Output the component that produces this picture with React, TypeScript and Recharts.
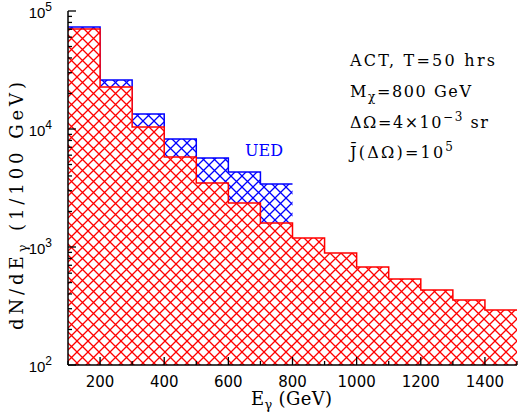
import React from 'react';
import { ComposedChart, Area, XAxis, YAxis } from 'recharts';

// bin lower edges (GeV), last entry closes the final bin
const binEdges = [100, 200, 300, 400, 500, 600, 700, 800, 900, 1000, 1100, 1200, 1300, 1400, 1500];
// background counts per 100 GeV bin
const background = [70300, 22700, 10400, 5800, 3480, 2360, 1600, 1190, 889, 676, 536, 432, 356, 293];
// background + UED signal, bins 100-800 GeV
const uedTotal = [73100, 26000, 13400, 8220, 5680, 4320, 3420];

const xMajor = [200, 400, 600, 800, 1000, 1200, 1400];
const xTicks = [100, 200, 300, 400, 500, 600, 700, 800, 900, 1000, 1100, 1200, 1300, 1400, 1500];
const yDecades = [100, 1000, 10000, 100000];
const yTicks = [
  100, 200, 300, 400, 500, 600, 700, 800, 900,
  1000, 2000, 3000, 4000, 5000, 6000, 7000, 8000, 9000,
  10000, 20000, 30000, 40000, 50000, 60000, 70000, 80000, 90000,
  100000,
];

const data = binEdges.map((e, i) => ({
  e,
  bg: background[Math.min(i, background.length - 1)],
  ued: i <= uedTotal.length ? uedTotal[Math.min(i, uedTotal.length - 1)] : null,
}));

const W = 518;
const H = 414;
const serif = '"DejaVu Serif", serif';
const sans = '"DejaVu Sans", sans-serif';
const sansNarrow = '"Liberation Sans", Arial, sans-serif';

const BottomTick = (props: any) => {
  const { x, y, payload } = props;
  const v = payload.value;
  const major = xMajor.includes(v);
  return (
    <g>
      <line x1={x} x2={x} y1={y} y2={y - (major ? 8 : 4)} stroke="#000" strokeWidth={1.3} />
      {major && (
        <text x={x} y={y + 22} textAnchor="middle" fontFamily={sans} fontSize={15} fill="#000">
          {v}
        </text>
      )}
    </g>
  );
};

const TopTick = (props: any) => {
  const { x, y, payload } = props;
  const major = xMajor.includes(payload.value);
  return <line x1={x} x2={x} y1={y} y2={y + (major ? 8 : 4)} stroke="#000" strokeWidth={1.3} />;
};

const LeftTick = (props: any) => {
  const { x, y, payload } = props;
  const v = payload.value;
  const major = yDecades.includes(v);
  const exp = Math.round(Math.log10(v));
  return (
    <g>
      <line x1={x} x2={x + (major ? 8 : 4)} y1={y} y2={y} stroke="#000" strokeWidth={1.3} />
      {major && (
        <text x={x - 16} y={y + 7} textAnchor="end" fontFamily={sansNarrow} fontSize={15} fill="#000">
          10
          <tspan dy={-7} fontSize={12}>{exp}</tspan>
        </text>
      )}
    </g>
  );
};

const RightTick = (props: any) => {
  const { x, y, payload } = props;
  const major = yDecades.includes(payload.value);
  return <line x1={x} x2={x - (major ? 8 : 4)} y1={y} y2={y} stroke="#000" strokeWidth={1.3} />;
};

export default function App() {
  return (
    <div style={{ position: 'absolute', left: 0, top: 0, width: W, height: H, background: '#fff' }}>
      <svg width={0} height={0} style={{ position: 'absolute' }}>
        <defs>
          <pattern id="hatchRed" patternUnits="userSpaceOnUse" width={11} height={11}>
            <rect width={11} height={11} fill="#fff" />
            <path d="M0,0 L11,11 M0,11 L11,0" stroke="#ff0000" strokeWidth={1.3} />
          </pattern>
          <pattern id="hatchBlue" patternUnits="userSpaceOnUse" width={11} height={11}>
            <rect width={11} height={11} fill="#fff" />
            <path d="M0,0 L11,11 M0,11 L11,0" stroke="#0000ff" strokeWidth={1.3} />
          </pattern>
        </defs>
      </svg>
      <ComposedChart width={W} height={H} data={data} margin={{ top: 11, right: 1, bottom: 9, left: 8 }}>
        <XAxis
          dataKey="e"
          type="number"
          domain={[100, 1500]}
          ticks={xTicks}
          interval={0}
          tickSize={0}
          tickMargin={0}
          height={40}
          tick={BottomTick}
          axisLine={{ stroke: '#000', strokeWidth: 1.5 }}
          tickLine={false}
        />
        <XAxis
          xAxisId="top"
          orientation="top"
          dataKey="e"
          type="number"
          domain={[100, 1500]}
          ticks={xTicks}
          interval={0}
          tickSize={0}
          tickMargin={0}
          height={0}
          tick={TopTick}
          axisLine={{ stroke: '#000', strokeWidth: 1.5 }}
          tickLine={false}
        />
        <YAxis
          type="number"
          scale="log"
          domain={[100, 100000]}
          allowDataOverflow
          ticks={yTicks}
          interval={0}
          tickSize={0}
          tickMargin={0}
          width={60}
          tick={LeftTick}
          axisLine={{ stroke: '#000', strokeWidth: 1.5 }}
          tickLine={false}
        />
        <YAxis
          yAxisId="right"
          orientation="right"
          type="number"
          scale="log"
          domain={[100, 100000]}
          allowDataOverflow
          ticks={yTicks}
          interval={0}
          tickSize={0}
          tickMargin={0}
          width={0}
          tick={RightTick}
          axisLine={{ stroke: '#000', strokeWidth: 1.5 }}
          tickLine={false}
        />
        <Area
          type="stepAfter"
          dataKey="ued"
          stroke="#0000ff"
          strokeWidth={1.5}
          fill="url(#hatchBlue)"
          fillOpacity={1}
          isAnimationActive={false}
          connectNulls={false}
          dot={false}
          activeDot={false}
        />
        <Area
          type="stepAfter"
          dataKey="bg"
          stroke="#ff0000"
          strokeWidth={1.5}
          fill="url(#hatchRed)"
          fillOpacity={1}
          isAnimationActive={false}
          dot={false}
          activeDot={false}
        />
      </ComposedChart>
      <svg width={W} height={H} style={{ position: 'absolute', left: 0, top: 0, pointerEvents: 'none' }}>
        <text fontFamily={serif} fontSize={17} fill="#0000ff" x={245} y={156} textLength={38} lengthAdjust="spacingAndGlyphs">
          UED
        </text>
        <g fontFamily={serif} fontSize={16} fill="#000">
          <text x={350} y={66} textLength={145}>ACT, T=50 hrs</text>
          <text x={350} y={97} textLength={121}>
            M<tspan dy={4} fontSize={12}>χ</tspan>
            <tspan dy={-4}>=800 GeV</tspan>
          </text>
          <text x={350} y={128} textLength={138}>
            ΔΩ=4×10<tspan dy={-7} fontSize={12}>−3</tspan>
            <tspan dy={7}> sr</tspan>
          </text>
          <text x={350} y={158} textLength={103}>
            J̄(ΔΩ)=10<tspan dy={-7} fontSize={12}>5</tspan>
          </text>
        </g>
        <text
          fontFamily={serif}
          fontSize={18}
          fill="#000"
          transform="translate(23, 330) rotate(-90)"
          textLength={248}
        >
          dN/dE<tspan dy={4} fontSize={13}>γ</tspan>
          <tspan dy={-4}> (1/100 GeV)</tspan>
        </text>
        <text fontFamily={serif} fontSize={18} fill="#000" x={251} y={405} textLength={81}>
          E<tspan dy={4} fontSize={13}>γ</tspan>
          <tspan dy={-4}> (GeV)</tspan>
        </text>
      </svg>
    </div>
  );
}
